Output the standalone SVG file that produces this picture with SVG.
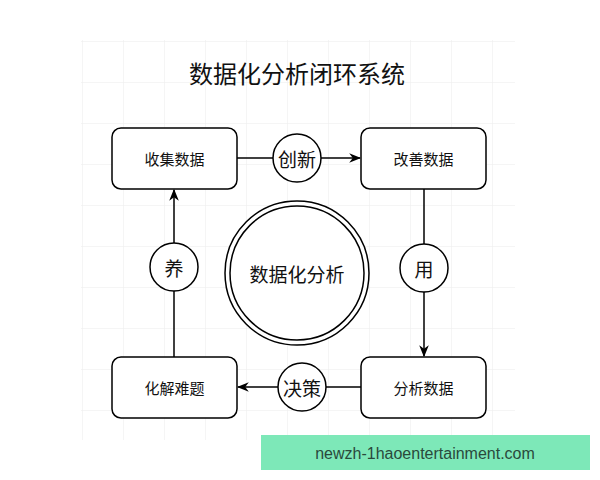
<svg xmlns="http://www.w3.org/2000/svg" width="600" height="480" viewBox="0 0 600 480">
<defs>
<pattern id="grid" x="0" y="0" width="41" height="41" patternUnits="userSpaceOnUse"><path d="M 0 0 L 41 0 M 0 0 L 0 41" fill="none" stroke="#ececec" stroke-width="1"/></pattern>
<marker id="arr" viewBox="0 0 10 10" refX="9" refY="5" markerWidth="8" markerHeight="8" orient="auto"><path d="M0,1 L10,5 L0,9 L3,5 Z" fill="#000"/></marker>
</defs>
<style>
.box{fill:#fff;stroke:#000;stroke-width:1.5}
.c{fill:#fff;stroke:#000;stroke-width:1.5}
.t{font-family:"Noto Sans CJK SC",sans-serif;font-size:15px;text-anchor:middle;dominant-baseline:central;fill:#111}
.ct{font-family:"Noto Sans CJK SC",sans-serif;font-size:19px;text-anchor:middle;dominant-baseline:central;fill:#111}
.ln{stroke:#000;stroke-width:1.5;fill:none}
</style>
<rect width="600" height="480" fill="#fff"/>
<rect x="81" y="40" width="434" height="400" fill="url(#grid)"/>
<text x="297" y="72" font-family="Noto Sans CJK SC,sans-serif" font-size="24" text-anchor="middle" dominant-baseline="central" fill="#111">数据化分析闭环系统</text>
<g id="connectors">
<path class="ln" d="M237,158 H273"/><path class="ln" d="M321,158 H360" marker-end="url(#arr)"/>
<path class="ln" d="M424,189 V244"/><path class="ln" d="M424,292 V356" marker-end="url(#arr)"/>
<path class="ln" d="M361,387 H326"/><path class="ln" d="M278,387 H238" marker-end="url(#arr)"/>
<path class="ln" d="M174,357 V291"/><path class="ln" d="M174,243 V190" marker-end="url(#arr)"/>
</g>
<g id="n1"><rect class="box" x="112" y="128" width="125" height="61" rx="9"/><text class="t" x="174.5" y="158.5">收集数据</text></g>
<g id="n2"><rect class="box" x="361" y="128" width="125" height="61" rx="9"/><text class="t" x="423.5" y="158.5">改善数据</text></g>
<g id="n3"><rect class="box" x="361" y="357" width="125" height="61" rx="9"/><text class="t" x="423.5" y="387.5">分析数据</text></g>
<g id="n4"><rect class="box" x="112" y="357" width="125" height="61" rx="9"/><text class="t" x="174.5" y="387.5">化解难题</text></g>
<g id="c1"><circle class="c" cx="297" cy="158" r="24"/><text class="ct" x="297" y="158">创新</text></g>
<g id="c2"><circle class="c" cx="424" cy="268" r="24"/><text class="ct" x="424" y="268">用</text></g>
<g id="c3"><circle class="c" cx="302" cy="387" r="24"/><text class="ct" x="302" y="387">决策</text></g>
<g id="c4"><circle class="c" cx="174" cy="267" r="24"/><text class="ct" x="174" y="267">养</text></g>
<g id="center"><circle class="c" cx="297" cy="273" r="72"/><circle class="c" cx="297" cy="273" r="67"/><text class="ct" x="297" y="273" font-size="20">数据化分析</text></g>
<rect x="261" y="435" width="329" height="35" fill="#7de8b8"/>
<text x="425" y="453" font-family="Liberation Sans,sans-serif" font-size="16" text-anchor="middle" dominant-baseline="central" fill="#2a4a3c">newzh-1haoentertainment.com</text>
</svg>
